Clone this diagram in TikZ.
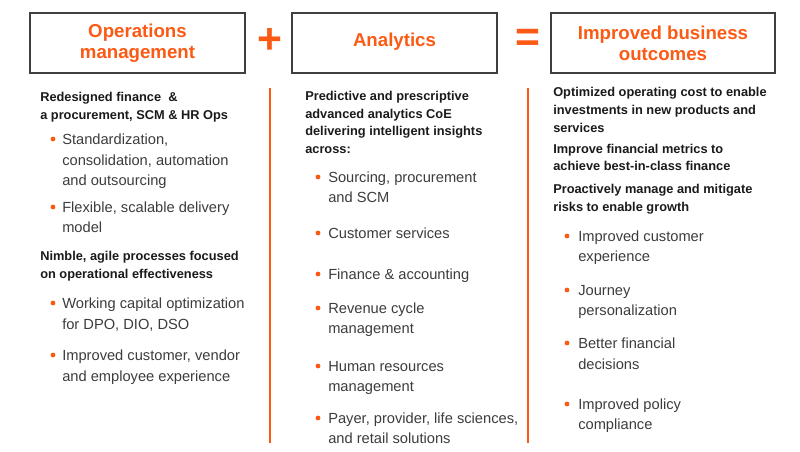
\documentclass[tikz,border=0pt]{standalone}
\usepackage{fontspec}
\setmainfont{Liberation Sans}
\definecolor{org}{HTML}{FA5A14}
\definecolor{txt}{HTML}{1A1A1A}
\begin{document}
\begin{tikzpicture}[x=0.75pt,y=-0.75pt,
 box/.style={draw=black!75,line width=0.8pt},
 ttl/.style={text=org,font=\fontsize{14}{16}\selectfont\bfseries,align=center},
 bld/.style={anchor=base west,inner sep=0pt,text=txt,font=\fontsize{9.6}{11}\selectfont\bfseries},
 reg/.style={anchor=base west,inner sep=0pt,text=txt!85,font=\fontsize{11}{12}\selectfont},
 dot/.style={circle,fill=org,inner sep=0pt,minimum size=3.6pt},
 sep/.style={draw=org,line width=0.9pt}]
\path[use as bounding box] (0,0) rectangle (800,451);
\draw[box] (30,13) rectangle (245,73);
\draw[box] (292,13) rectangle (497,73);
\draw[box] (551,13) rectangle (775,73);
\node[ttl] (t1) at (137.5,43) {Operations\\management};
\node[ttl] (t2) at (394.5,42) {Analytics};
\node[ttl] (t3) at (663,43) {Improved business\\outcomes};
\node[text=org,font=\fontsize{32}{32}\selectfont\bfseries] (plus) at (270,41) {+};
\node[text=org,font=\fontsize{32}{32}\selectfont\bfseries] (eq) at (528,40) {=};
\coordinate (l1a) at (270,88); \coordinate (l1b) at (270,443);
\coordinate (l2a) at (528,88); \coordinate (l2b) at (528,443);
\draw[sep] (l1a) -- (l1b);
\draw[sep] (l2a) -- (l2b);
% column 1
\foreach \y/\t [count=\i] in {97/{Redesigned finance\ \ \&},115/{a procurement, SCM \& HR Ops},256/{Nimble, agile processes focused},274/{on operational effectiveness}}
  \node[bld] (a\i) at (40,\y+4.5) {\t};
\foreach \y/\t [count=\i] in {139/{Standardization,},160/{consolidation, automation},180/{and outsourcing},207/{Flexible, scalable delivery},227/{model},303/{Working capital optimization},324/{for DPO, DIO, DSO},355/{Improved customer, vendor},376/{and employee experience}}
  \node[reg] (b\i) at (62,\y+5) {\t};
\foreach \y [count=\i] in {139,207,303,355} \node[dot] (d\i) at (53,\y) {};
% column 2
\foreach \y/\t [count=\i] in {96/{Predictive and prescriptive},114/{advanced analytics CoE},131/{delivering intelligent insights},149/{across:}}
  \node[bld] (c\i) at (305,\y+4.5) {\t};
\foreach \y/\t [count=\i] in {177/{Sourcing, procurement},197/{and SCM},233/{Customer services},274/{Finance \& accounting},308/{Revenue cycle},328/{management},366/{Human resources},386/{management},418/{Payer, provider, life sciences,},438/{and retail solutions}}
  \node[reg] (e\i) at (328,\y+5) {\t};
\foreach \y [count=\i] in {177,233,274,308,366,418} \node[dot] (f\i) at (318,\y) {};
% column 3
\foreach \y/\t [count=\i] in {92/{Optimized operating cost to enable},110/{investments in new products and},128/{services},149/{Improve financial metrics to},166/{achieve best-in-class finance},189/{Proactively manage and mitigate},207/{risks to enable growth}}
  \node[bld] (g\i) at (553,\y+4.5) {\t};
\foreach \y/\t [count=\i] in {236/{Improved customer},256/{experience},290/{Journey},310/{personalization},343/{Better financial},364/{decisions},404/{Improved policy},424/{compliance}}
  \node[reg] (h\i) at (578,\y+5) {\t};
\foreach \y [count=\i] in {236,290,343,404} \node[dot] (k\i) at (567,\y) {};
\end{tikzpicture}
\end{document}
